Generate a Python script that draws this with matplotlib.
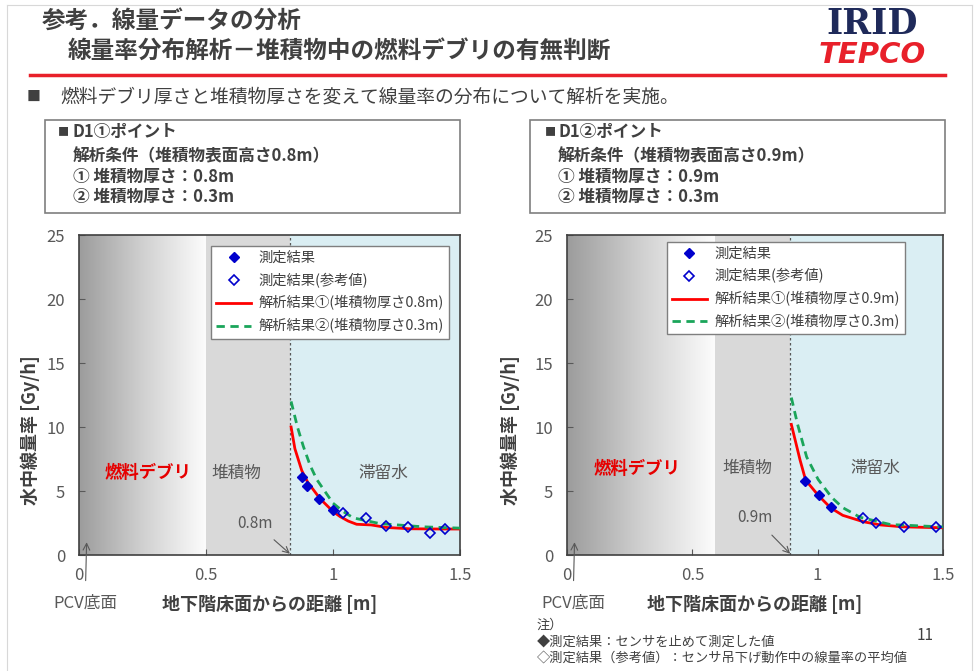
import numpy as np
import matplotlib.pyplot as plt
from matplotlib.colors import LinearSegmentedColormap
from matplotlib.lines import Line2D
from matplotlib.patches import Rectangle

plt.rcParams['font.family'] = ['Noto Sans CJK JP', 'DejaVu Sans']

W, H = 976, 671

# ---- data ----
# left panel: D1(1) point
l_depo_start = 0.5
l_surface = 0.83
l_meas_x = [0.877, 0.899, 0.946, 0.999]
l_meas_y = [6.1, 5.4, 4.4, 3.5]
l_ref_x = [1.04, 1.13, 1.207, 1.297, 1.38, 1.44]
l_ref_y = [3.3, 2.9, 2.3, 2.2, 1.75, 2.05]
l_red_x = [0.835, 0.85, 0.877, 0.9, 0.949, 1.0, 1.028, 1.06, 1.093, 1.15, 1.211, 1.3, 1.421, 1.5]
l_red_y = [10.0, 8.3, 6.6, 5.7, 4.4, 3.4, 3.0, 2.65, 2.4, 2.35, 2.15, 2.05, 2.03, 2.03]
l_grn_x = [0.835, 0.86, 0.883, 0.91, 0.936, 1.0, 1.04, 1.08, 1.185, 1.356, 1.5]
l_grn_y = [12.0, 10.0, 8.5, 7.0, 5.9, 4.05, 3.4, 2.9, 2.45, 2.2, 2.1]

# right panel: D1(2) point
r_depo_start = 0.59
r_surface = 0.89
r_meas_x = [0.951, 1.005, 1.053]
r_meas_y = [5.76, 4.65, 3.72]
r_ref_x = [1.182, 1.233, 1.344, 1.472]
r_ref_y = [2.86, 2.47, 2.2, 2.2]
r_red_x = [0.895, 0.91, 0.93, 0.952, 1.002, 1.052, 1.1, 1.182, 1.25, 1.34, 1.49, 1.5]
r_red_y = [10.2, 9.0, 7.4, 5.85, 4.67, 3.68, 3.1, 2.6, 2.35, 2.2, 2.13, 2.13]
r_grn_x = [0.895, 0.92, 0.956, 1.002, 1.056, 1.1, 1.169, 1.29, 1.49, 1.5]
r_grn_y = [12.3, 10.2, 7.66, 5.9, 4.5, 3.7, 2.95, 2.38, 2.2, 2.2]

xticks = [0, 0.5, 1, 1.5]
xticklabels = ['0', '0.5', '1', '1.5']
yticks = [0, 5, 10, 15, 20, 25]

GRAY_TXT = '#595959'
DARK_TXT = '#404040'


def px(x, y):
    return x / W, 1 - y / H


fig = plt.figure(figsize=(W / 100, H / 100), dpi=100)
fig.patch.set_facecolor('white')

# slide frame
fig.add_artist(Line2D([7 / W, 972 / W], [1 - 5 / H, 1 - 5 / H], color='#d8d8d8', lw=0.8))
fig.add_artist(Line2D([7 / W, 7 / W], [0, 1 - 5 / H], color='#d8d8d8', lw=0.8))
fig.add_artist(Line2D([972 / W, 972 / W], [0, 1 - 5 / H], color='#d8d8d8', lw=0.8))

# header
fig.text(*px(42, 21), '参考．線量データの分析', fontsize=17, fontweight='bold',
         color=DARK_TXT, va='center')
fig.text(*px(68, 51), '線量率分布解析－堆積物中の燃料デブリの有無判断', fontsize=17,
         fontweight='bold', color=DARK_TXT, va='center')
fig.add_artist(Line2D([30 / W, 945 / W], [1 - 75 / H, 1 - 75 / H], color='#e8202a', lw=2.5))
fig.text(*px(872, 24), 'IRID', fontsize=25, fontweight='bold', family='DejaVu Serif',
         color='#1f2a5a', ha='center', va='center')
fig.text(*px(872, 55), 'TEPCO', fontsize=21, fontweight='bold', style='italic',
         family='DejaVu Sans', color='#e8202a', ha='center', va='center')
fig.text(*px(27, 97), '■', fontsize=10, color=DARK_TXT, va='center')
fig.text(*px(60, 97), '燃料デブリ厚さと堆積物厚さを変えて線量率の分布について解析を実施。',
         fontsize=13.5, color=DARK_TXT, va='center')

# condition boxes
boxes = [
    (45, 460, 58, 73, ['D1①ポイント', '解析条件（堆積物表面高さ0.8m）', '① 堆積物厚さ：0.8m', '② 堆積物厚さ：0.3m']),
    (530, 945, 545, 558, ['D1②ポイント', '解析条件（堆積物表面高さ0.9m）', '① 堆積物厚さ：0.9m', '② 堆積物厚さ：0.3m']),
]
for x0, x1, xb, xt, lines in boxes:
    fig.add_artist(Rectangle(px(x0, 213), (x1 - x0) / W, 93 / H, transform=fig.transFigure,
                             facecolor='white', edgecolor='#7f7f7f', lw=1.2))
    fig.text(*px(xb, 132), '■', fontsize=8, color=DARK_TXT, va='center')
    fig.text(*px(xb + 14, 132), lines[0], fontsize=12, fontweight='bold', color=DARK_TXT, va='center')
    for i, s in enumerate(lines[1:]):
        fig.text(*px(xt, 156 + 20.5 * i), s, fontsize=12, fontweight='bold', color=DARK_TXT,
                 va='center')

grad_cmap = LinearSegmentedColormap.from_list('debris', ['#9c9c9c', '#d0d0d0', '#fcfcfc'])
grad = np.linspace(0, 1, 256).reshape(1, -1)

legend_handles = [
    Line2D([], [], marker='D', ls='none', color='#0000cc', ms=5),
    Line2D([], [], marker='D', ls='none', mfc='none', mec='#0000cc', mew=1.2, ms=5),
    Line2D([], [], color='#ff0000', lw=2),
    Line2D([], [], color='#1aa55a', lw=2, ls=(0, (3, 2))),
]


def draw_panel(rect, depo_start, surface, meas_x, meas_y, ref_x, ref_y,
               red_x, red_y, grn_x, grn_y, thick, leg_anchor, lab_pos, ylab_x):
    ax = fig.add_axes(rect)
    ax.imshow(grad, extent=[0, depo_start, 0, 25], aspect='auto', cmap=grad_cmap, zorder=0)
    ax.axvspan(depo_start, surface, color='#d9d9d9', zorder=0, lw=0)
    ax.axvspan(surface, 1.5, color='#daeef3', zorder=0, lw=0)
    ax.axvline(surface, color=GRAY_TXT, ls=(0, (2, 2)), lw=0.9, zorder=1)

    ax.plot(red_x, red_y, color='#ff0000', lw=2, zorder=3)
    ax.plot(grn_x, grn_y, color='#1aa55a', lw=2, ls=(0, (3, 2)), zorder=3)
    ax.plot(meas_x, meas_y, 'D', color='#0000cc', ms=5.5, zorder=4)
    ax.plot(ref_x, ref_y, 'D', mfc='none', mec='#0000cc', mew=1.2, ms=5.5, zorder=4)

    ax.set_xlim(0, 1.5)
    ax.set_ylim(0, 25)
    ax.set_xticks(xticks)
    ax.set_xticklabels(xticklabels)
    ax.set_yticks(yticks)
    ax.tick_params(direction='in', length=4, color=GRAY_TXT, labelcolor=GRAY_TXT, labelsize=12)
    ax.tick_params(axis='x', pad=9)
    ax.tick_params(axis='y', pad=10)
    for sp in ax.spines.values():
        sp.set_color(DARK_TXT)
        sp.set_linewidth(1.2)

    ax.set_xlabel('地下階床面からの距離 [m]', fontsize=13, fontweight='bold', color=DARK_TXT)
    ax.xaxis.set_label_coords(0.5, -0.125)
    ax.set_ylabel('水中線量率 [Gy/h]', fontsize=13, fontweight='bold', color=DARK_TXT)
    ax.yaxis.set_label_coords(ylab_x, 0.39)

    ax.text(lab_pos[0], lab_pos[1], '燃料デブリ', fontsize=12.5, fontweight='bold',
            color='#e60000', ha='center', va='center')
    ax.text(lab_pos[2], lab_pos[1], '堆積物', fontsize=12, color=GRAY_TXT, ha='center', va='center')
    ax.text(lab_pos[3], lab_pos[1], '滞留水', fontsize=12, color=GRAY_TXT, ha='center', va='center')

    ax.annotate(f'{thick}m', xy=(surface, 0.1), xytext=(lab_pos[4], lab_pos[5]),
                ha='center', va='center', fontsize=11, color=GRAY_TXT,
                arrowprops=dict(arrowstyle='->', color=GRAY_TXT, lw=0.8, shrinkA=6, shrinkB=0))
    ax.annotate('PCV底面', xy=(0.03, 1.0), xytext=(0.024, -3.75), ha='center', va='center',
                fontsize=12, color=GRAY_TXT, annotation_clip=False,
                arrowprops=dict(arrowstyle='->', color=GRAY_TXT, lw=0.8, shrinkA=8, shrinkB=0))

    labels = ['測定結果', '測定結果(参考値)', f'解析結果①(堆積物厚さ{thick}m)', '解析結果②(堆積物厚さ0.3m)']
    leg = ax.legend(legend_handles, labels, loc='upper right', bbox_to_anchor=leg_anchor,
                    fontsize=10.3, fancybox=False, edgecolor='#7f7f7f', framealpha=1,
                    handlelength=2.5, handletextpad=0.5, borderaxespad=0,
                    labelspacing=0.55, borderpad=0.35)
    leg.get_frame().set_linewidth(1.0)
    for t in leg.get_texts():
        t.set_color(DARK_TXT)
    return ax


draw_panel([79 / W, 1 - 555 / H, 381 / W, 320 / H], l_depo_start, l_surface,
           l_meas_x, l_meas_y, l_ref_x, l_ref_y, l_red_x, l_red_y, l_grn_x, l_grn_y,
           '0.8', (0.971, 0.966), (0.27, 6.4, 0.62, 1.2, 0.693, 2.5), -0.102)
draw_panel([567 / W, 1 - 555 / H, 376 / W, 320 / H], r_depo_start, r_surface,
           r_meas_x, r_meas_y, r_ref_x, r_ref_y, r_red_x, r_red_y, r_grn_x, r_grn_y,
           '0.9', (0.899, 0.979), (0.278, 6.75, 0.72, 1.23, 0.75, 2.9), -0.125)

# footnotes
fig.text(*px(537, 625), '注）', fontsize=9.5, color=DARK_TXT, va='center')
fig.text(*px(537, 642), '◆測定結果：センサを止めて測定した値', fontsize=9.5, color=DARK_TXT, va='center')
fig.text(*px(537, 658), '◇測定結果（参考値）：センサ吊下げ動作中の線量率の平均値', fontsize=9.5,
         color=DARK_TXT, va='center')
fig.text(*px(925, 635), '11', fontsize=11, color=DARK_TXT, ha='center', va='center')

fig.savefig('out.png', dpi=100)
